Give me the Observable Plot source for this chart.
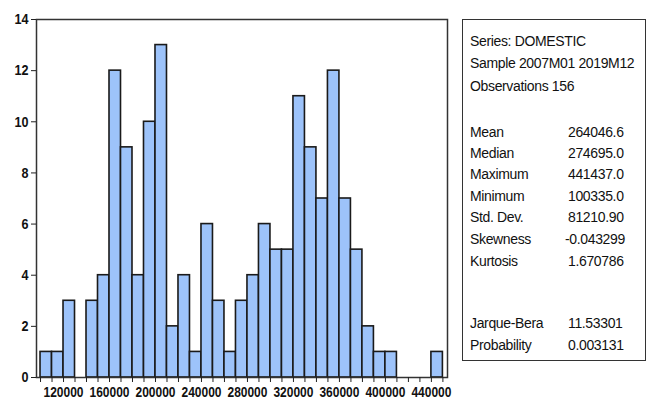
<!DOCTYPE html>
<html>
<head>
<meta charset="utf-8">
<script src="https://cdn.jsdelivr.net/npm/d3@7"></script>
<script src="https://cdn.jsdelivr.net/npm/@observablehq/plot@0.6"></script>
<style>
  html, body { margin: 0; padding: 0; background: #fff; }
  #wrap { position: relative; width: 647px; height: 405px; overflow: hidden; }
  #stats { position: absolute; left: 462px; top: 19px; width: 184px; height: 342px;
           border: 1.5px solid #333; box-sizing: border-box;
           font-family: "Liberation Sans", Arial, sans-serif; font-size: 14px;
           letter-spacing: -0.35px; color: #111; }
  #stats div { position: absolute; white-space: nowrap; line-height: 16px; }
</style>
</head>
<body>
<div id="wrap"></div>
<script>
// Histogram bins (left edges, width 10000) and counts
const binStarts = [100000,110000,120000,130000,140000,150000,160000,170000,180000,190000,
                   200000,210000,220000,230000,240000,250000,260000,270000,280000,290000,
                   300000,310000,320000,330000,340000,350000,360000,370000,380000,390000,
                   400000,410000,420000,430000,440000];
const counts    = [1,1,3,0,3,4,12,9,4,10,
                   13,2,4,1,6,3,1,3,4,6,
                   5,5,11,9,7,12,7,5,2,1,
                   1,0,0,0,1];
const binWidth = 10000;
const yTicks = [0,2,4,6,8,10,12,14];
const xTicks = d3.range(100000, 460000, 10000);
const labelEvery = 40000;

// Summary statistics
const headerLines = ["Series: DOMESTIC", "Sample 2007M01 2019M12", "Observations 156"];
const statNames  = ["Mean","Median","Maximum","Minimum","Std. Dev.","Skewness","Kurtosis","Jarque-Bera","Probability"];
const statValues = ["264046.6","274695.0","441437.0","100335.0","81210.90","-0.043299","1.670786","11.53301","0.003131"];

const bins = binStarts.map((b, i) => ({x1: b, x2: b + binWidth, count: counts[i]})).filter(d => d.count > 0);

const chart = Plot.plot({
  width: 647,
  height: 405,
  marginLeft: 36,
  marginRight: 200,
  marginTop: 19,
  marginBottom: 28,
  style: {fontFamily: "'Liberation Sans', Arial, sans-serif", fontSize: "15px", fontWeight: "bold", color: "#111", background: "#fff"},
  x: {domain: [96500, 454000]},
  y: {domain: [0, 14]},
  marks: [
    Plot.rectY(bins, {x1: "x1", x2: "x2", y: "count", fill: "#9dc3fa", stroke: "#1a1a1a", strokeWidth: 1.6, inset: 0}),
    Plot.frame({stroke: "#333", strokeWidth: 1.5}),
    Plot.axisY({ticks: yTicks, tickSize: 5, tickPadding: 3, label: null, stroke: "#222"}),
    Plot.axisX({ticks: xTicks, tickSize: 5, tickPadding: 4, label: null, stroke: "#222",
                tickFormat: d => (d % labelEvery === 0 ? String(d) : "")})
  ]
});

// condense the tick labels like the narrow font in the reference
chart.querySelectorAll('g[aria-label="x-axis tick label"] text').forEach(t => {
  if (t.textContent.trim() !== "") {
    t.setAttribute("textLength", "40");
    t.setAttribute("lengthAdjust", "spacingAndGlyphs");
  }
});
chart.querySelectorAll('g[aria-label="y-axis tick label"] text').forEach(t => {
  const n = t.textContent.trim().length;
  t.setAttribute("textLength", String(n * 7));
  t.setAttribute("lengthAdjust", "spacingAndGlyphs");
});

const wrap = document.getElementById("wrap");
wrap.appendChild(chart);

const box = document.createElement("div");
box.id = "stats";
wrap.appendChild(box);
const headerCenters = [40, 62, 85];
headerLines.forEach((t, i) => {
  const d = document.createElement("div");
  d.textContent = t;
  d.style.left = "7px";
  d.style.top = (headerCenters[i] - 19 - 8) + "px";
  box.appendChild(d);
});
const statCenters = [131, 152, 173, 195, 216, 238, 260, 322, 344];
statNames.forEach((t, i) => {
  const a = document.createElement("div");
  a.textContent = t;
  a.style.left = "7px";
  a.style.top = (statCenters[i] - 19 - 8) + "px";
  box.appendChild(a);
  const b = document.createElement("div");
  b.textContent = statValues[i];
  b.style.left = (statValues[i].startsWith("-") ? 102 : 105) + "px";
  b.style.top = (statCenters[i] - 19 - 8) + "px";
  box.appendChild(b);
});
</script>
</body>
</html>
